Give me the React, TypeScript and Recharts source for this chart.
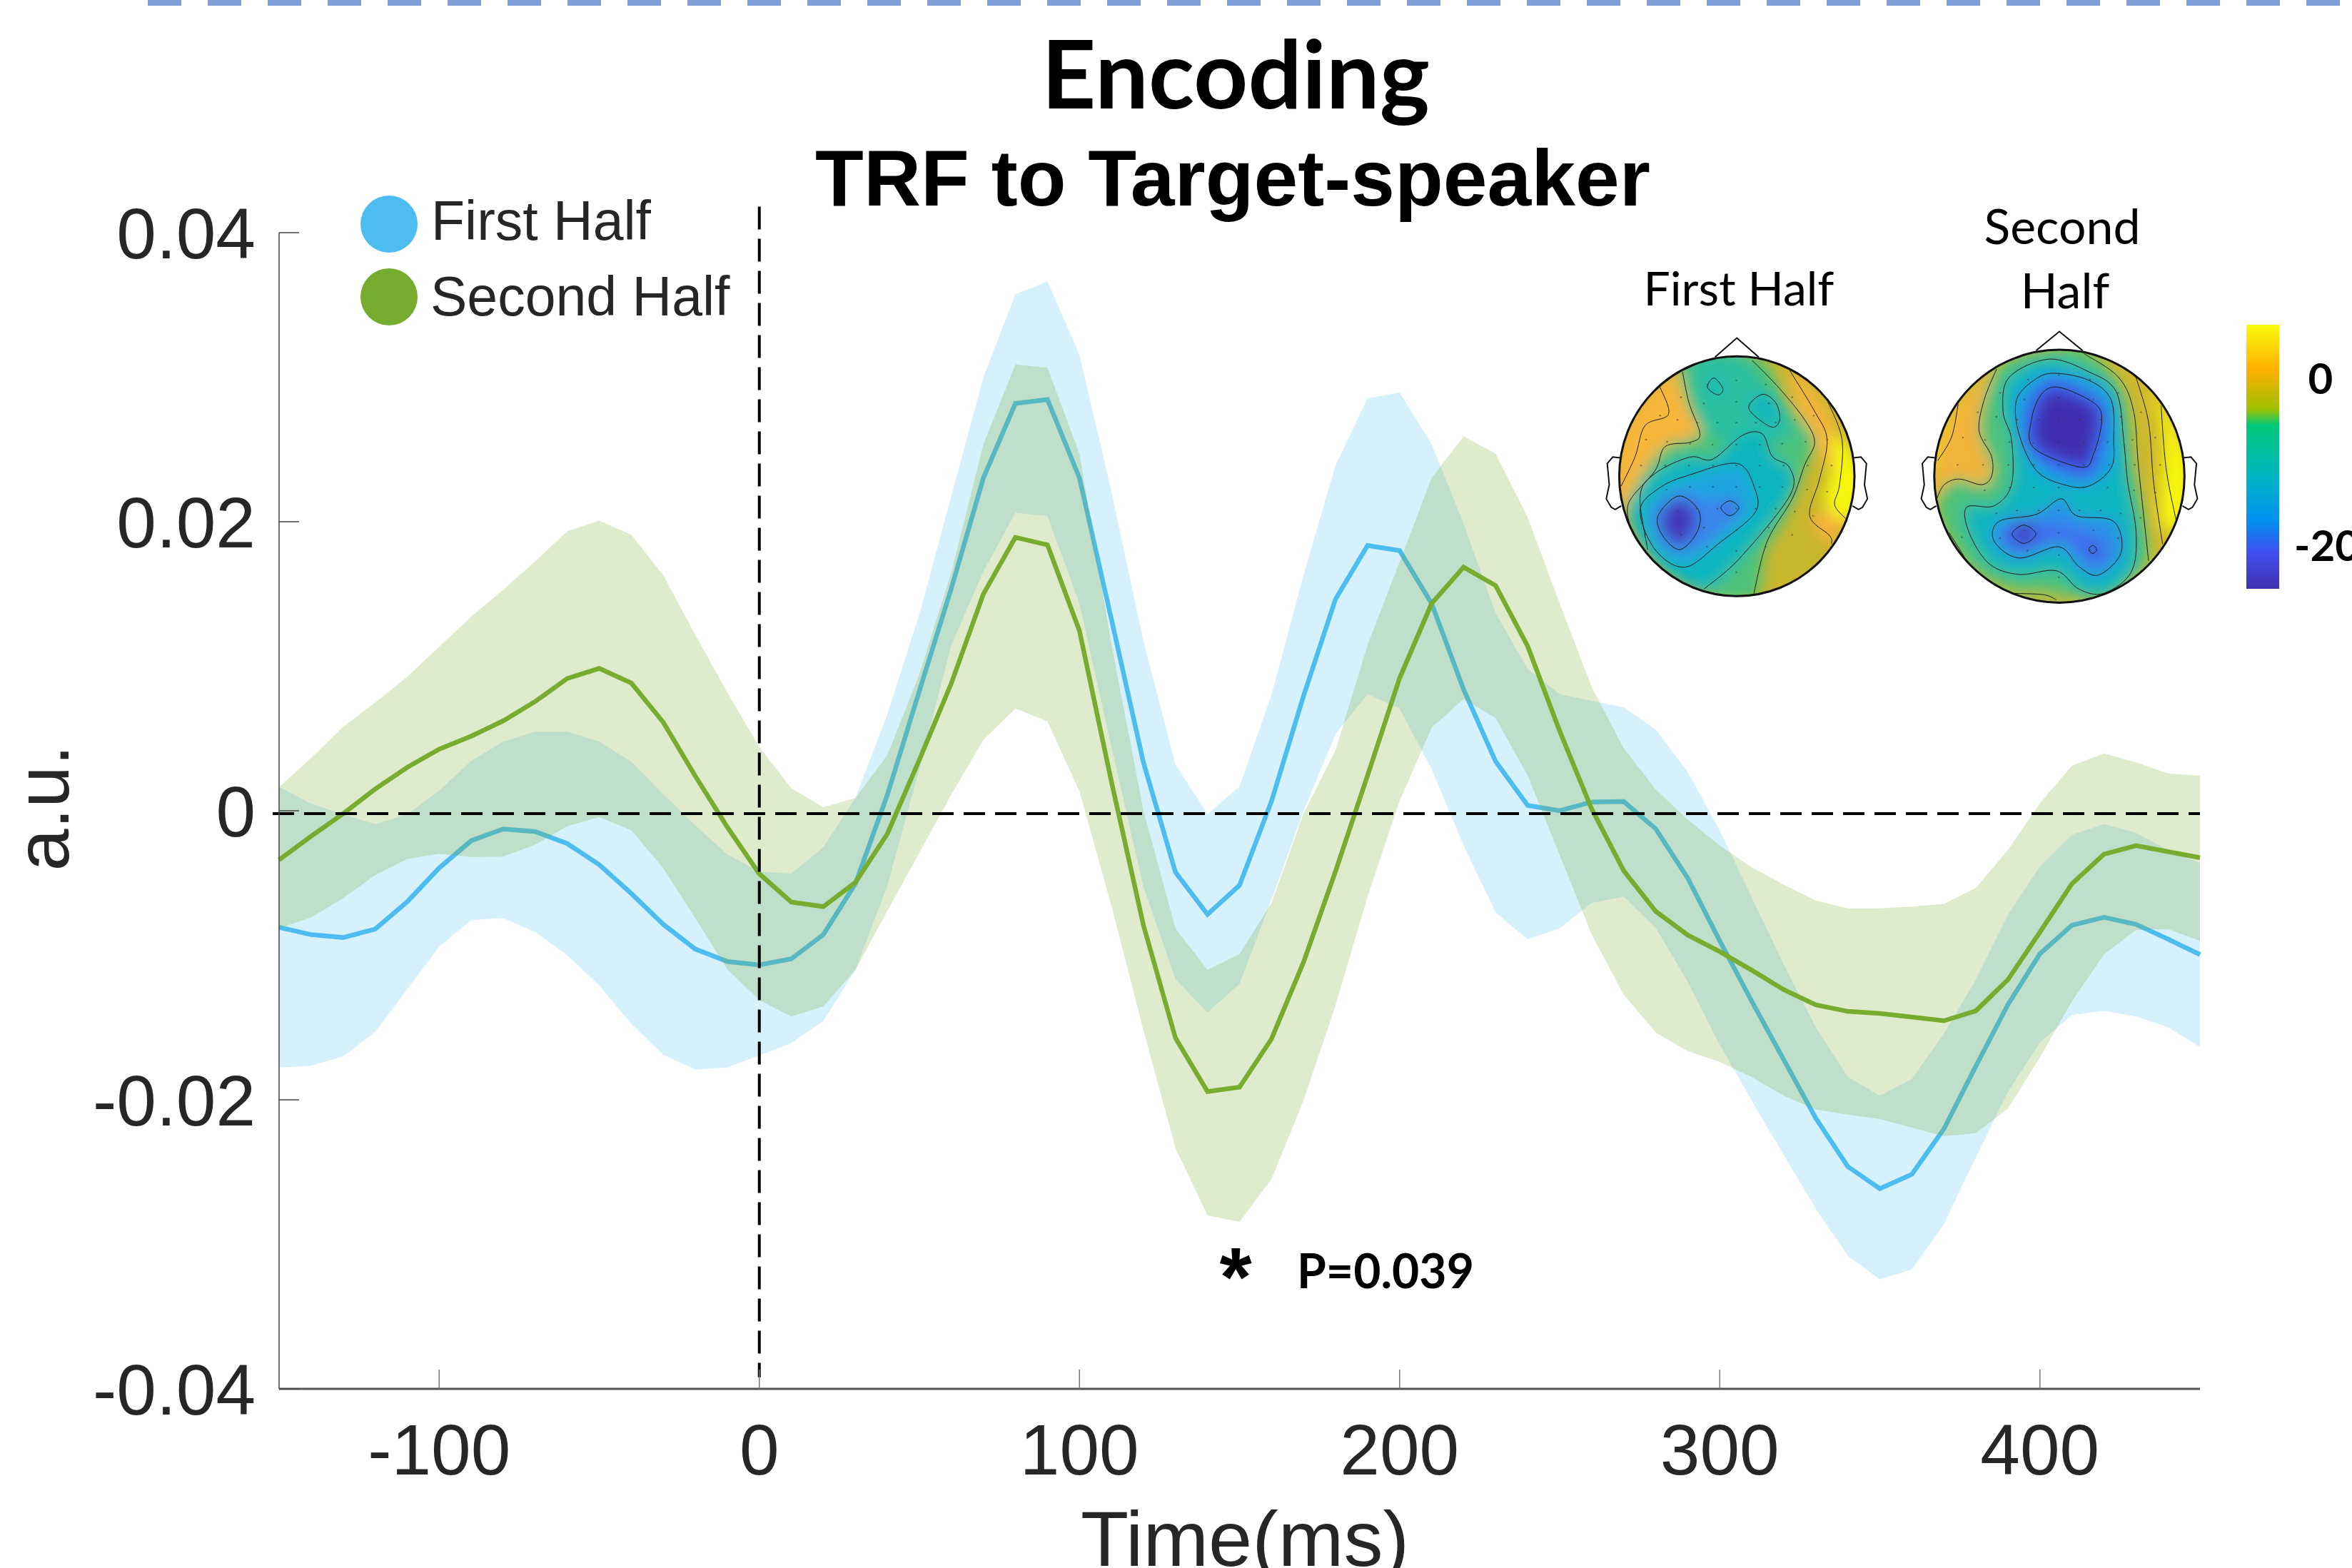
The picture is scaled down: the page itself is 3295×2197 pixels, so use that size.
import { Area, ComposedChart, Line, ReferenceLine, XAxis, YAxis } from 'recharts';

const times = [
  -150, -140, -130, -120, -110, -100, -90, -80, -70, -60, -50, -40, -30, -20, -10, 0, 10, 20, 30, 40, 50,
  60, 70, 80, 90, 100, 110, 120, 130, 140, 150, 160, 170, 180, 190, 200, 210, 220, 230, 240, 250,
  260, 270, 280, 290, 300, 310, 320, 330, 340, 350, 360, 370, 380, 390, 400, 410, 420, 430, 440, 450,
];

const firstMean = [
  -0.00806, -0.00857, -0.00877, -0.00819, -0.0063, -0.00396, -0.00207, -0.00126, -0.00144, -0.00227, -0.00373,
  -0.00572, -0.00786, -0.00957, -0.01043, -0.01066, -0.01025, -0.00857, -0.00505, 0.0011, 0.0083,
  0.0154, 0.02303, 0.02819, 0.02845, 0.02303, 0.01324, 0.00332, -0.00426, -0.00717, -0.00515,
  0.00067, 0.00795, 0.01465, 0.01836, 0.018, 0.01434, 0.00839, 0.00341, 0.00037, 0,
  0.00061, 0.00064, -0.00125, -0.00466, -0.009, -0.01319, -0.01723, -0.02127, -0.02462, -0.02615,
  -0.02516, -0.02202, -0.01767, -0.01342, -0.0099, -0.00792, -0.00738, -0.00786, -0.00888, -0.00995,
];
const firstUpper = [
  0.00164, 0.0005, -0.00025, -0.00093, -0.00025, 0.00139, 0.00345, 0.00479, 0.00547, 0.00547, 0.00479,
  0.0034, 0.00113, -0.00101, -0.00302, -0.00421, -0.00436, -0.00252, 0.00088, 0.00668, 0.0136,
  0.0218, 0.03, 0.03574, 0.03662, 0.03154, 0.02206, 0.0117, 0.00319, -0.00022, 0.00168,
  0.00803, 0.01632, 0.02391, 0.02854, 0.02894, 0.02537, 0.01985, 0.01368, 0.0098, 0.00808,
  0.0076, 0.00716, 0.00561, 0.00268, -0.00136, -0.006, -0.01064, -0.01498, -0.01842, -0.01971,
  -0.01857, -0.01543, -0.01169, -0.0072, -0.00385, -0.00167, -0.00092, -0.00152, -0.00272, -0.00362,
];
const firstLower = [
  -0.01776, -0.01764, -0.017, -0.0153, -0.01235, -0.0094, -0.00756, -0.00743, -0.00839, -0.01, -0.01209,
  -0.01474, -0.01688, -0.01791, -0.01776, -0.01693, -0.01607, -0.01454, -0.01101, -0.00517, 0.0029,
  0.0115, 0.01655, 0.02062, 0.0204, 0.01434, 0.00442, -0.00527, -0.01167, -0.01396, -0.01198,
  -0.00616, 0, 0.00531, 0.00808, 0.00707, 0.00288, -0.00241, -0.00704, -0.00889, -0.00814,
  -0.00638, -0.00594, -0.0081, -0.01184, -0.01618, -0.02007, -0.02381, -0.02755, -0.03079, -0.03243,
  -0.03174, -0.0286, -0.02396, -0.01947, -0.01603, -0.01414, -0.01384, -0.01423, -0.01498, -0.01633,
];

const secondMean = [
  -0.0034, -0.00176, -0.0002, 0.0015, 0.003, 0.00426, 0.00516, 0.00622, 0.00756, 0.00915, 0.00985,
  0.00884, 0.00612, 0.0024, -0.00113, -0.00436, -0.00632, -0.00663, -0.00496, -0.00159, 0.00353,
  0.00883, 0.015, 0.01892, 0.0184, 0.01245, 0.002, -0.00793, -0.01573, -0.01943, -0.01912,
  -0.01578, -0.01047, -0.00418, 0.00244, 0.00918, 0.01434, 0.01686, 0.01558, 0.01139, 0.00552,
  0.00013, -0.00415, -0.00696, -0.0086, -0.00975, -0.01103, -0.01238, -0.01343, -0.01388, -0.01403,
  -0.01427, -0.01453, -0.01384, -0.01169, -0.0084, -0.00505, -0.00301, -0.00241, -0.00283, -0.00325,
];
const secondUpper = [
  0.00164, 0.00365, 0.0058, 0.00748, 0.00927, 0.01134, 0.01343, 0.0153, 0.01726, 0.01935, 0.02008,
  0.0191, 0.0163, 0.01217, 0.00819, 0.00441, 0.00156, 0.00025, 0.00088, 0.00385, 0.00945,
  0.0165, 0.02537, 0.03088, 0.03066, 0.0247, 0.01148, 0, -0.00815, -0.01101, -0.00991,
  -0.00638, -0.0002, 0.0042, 0.01148, 0.01721, 0.02303, 0.0259, 0.0247, 0.0203, 0.01434,
  0.00857, 0.00432, 0.00148, -0.00062, -0.00241, -0.00391, -0.00511, -0.00621, -0.00675, -0.00675,
  -0.00663, -0.00645, -0.00534, -0.00271, 0.00052, 0.00312, 0.00396, 0.00336, 0.00258, 0.00243,
];
const secondLower = [
  -0.00814, -0.00738, -0.00605, -0.00446, -0.00333, -0.00297, -0.0032, -0.00317, -0.00234, -0.00108, -0.00043,
  -0.00134, -0.00398, -0.00743, -0.01096, -0.0131, -0.01424, -0.01353, -0.01101, -0.00693, -0.0029,
  0.00113, 0.00491, 0.00707, 0.00619, 0.00134, -0.00659, -0.0152, -0.02335, -0.028, -0.02844,
  -0.02547, -0.02005, -0.01344, -0.00594, 0.00068, 0.00575, 0.00773, 0.00641, 0.00244, -0.00307,
  -0.00855, -0.01274, -0.01534, -0.01663, -0.01738, -0.01843, -0.01972, -0.02067, -0.02103, -0.02133,
  -0.02192, -0.02252, -0.02231, -0.0206, -0.01708, -0.01319, -0.00995, -0.00825, -0.00819, -0.009,
];

const xTicks = [-100, 0, 100, 200, 300, 400];
const yTicks = [-0.04, -0.02, 0, 0.02, 0.04];

const chartData = times.map((t, i) => ({
  t,
  firstMean: firstMean[i],
  firstBand: [firstLower[i], firstUpper[i]],
  secondMean: secondMean[i],
  secondBand: [secondLower[i], secondUpper[i]],
}));

const BLUE = '#4dbdf0';
const GREEN = '#78ac2f';
const TEXT = '#262626';
const W = 3295;
const H = 2197;

type Pt = [number, number];

// closed or open smooth path through hand traced points
const smooth = (pts: Pt[], closed = true) => {
  const n = pts.length;
  const at = (i: number) => (closed ? pts[(i + n) % n] : pts[Math.max(0, Math.min(n - 1, i))]);
  let d = `M${pts[0][0]},${pts[0][1]}`;
  const last = closed ? n : n - 1;
  for (let i = 0; i < last; i++) {
    const [p0, p1, p2, p3] = [at(i - 1), at(i), at(i + 1), at(i + 2)];
    d += `C${p1[0] + (p2[0] - p0[0]) / 6},${p1[1] + (p2[1] - p0[1]) / 6} ${p2[0] - (p3[0] - p1[0]) / 6},${p2[1] - (p3[1] - p1[1]) / 6} ${p2[0]},${p2[1]}`;
  }
  return closed ? d + 'Z' : d;
};

const electrodes: Pt[] = [
  [333, 690], [275, 705], [392, 705], [222, 750], [268, 772], [333, 766], [398, 772], [445, 750], [180, 815], [215, 830],
  [255, 840], [295, 840], [333, 840], [372, 840], [412, 840], [450, 830], [488, 815], [152, 900], [194, 908], [240, 915],
  [285, 918], [333, 918], [380, 918], [425, 915], [472, 908], [515, 900], [142, 992], [190, 992], [238, 992], [286, 992],
  [333, 992], [380, 992], [428, 992], [476, 992], [524, 992], [193, 1077], [240, 1068], [286, 1068], [333, 1068], [380, 1068],
  [425, 1068], [475, 1077], [515, 1085], [215, 1155], [254, 1145], [295, 1145], [333, 1145], [372, 1145], [412, 1145], [450, 1155],
  [487, 1170], [150, 1235], [222, 1238], [268, 1212], [333, 1220], [398, 1212], [445, 1238], [274, 1280], [333, 1295], [392, 1280], [333, 1370],
];

type Layer = { fill: string; pts: Pt[] };
type Head = { id: string; cx: number; cy: number; rx: number; ry: number; base: string; layers: Layer[]; contours: { pts: Pt[]; closed: boolean }[] };

const firstHead: Head = {
  id: 'h1', cx: 334, cy: 1030, rx: 236, ry: 425, base: '#c8b62e',
  layers: [
    { fill: '#f8b63a', pts: [[180, 700], [250, 640], [260, 880], [190, 930], [120, 1150], [90, 1050], [110, 850]] },
    { fill: '#f5b53a', pts: [[440, 650], [500, 760], [540, 900], [520, 1000], [490, 900], [460, 800]] },
    { fill: '#f7b23a', pts: [[485, 1170], [550, 1170], [520, 1270], [490, 1210]] },
    { fill: '#f8f510', pts: [[530, 880], [585, 1000], [585, 1100], [560, 1190], [510, 1130], [525, 1000]] },
    { fill: '#4cc27a', pts: [[225, 600], [370, 600], [440, 780], [490, 900], [470, 1000], [430, 1180], [390, 1300], [370, 1460], [270, 1450], [160, 1320], [115, 1180], [120, 1100], [185, 930], [260, 880], [235, 780]] },
    { fill: '#2cc0a0', pts: [[250, 620], [340, 610], [420, 780], [445, 880], [390, 920], [300, 900], [260, 820]] },
    { fill: '#0fb6c0', pts: [[240, 962], [285, 970], [345, 885], [385, 880], [405, 960], [440, 1000], [445, 1080], [380, 1240], [330, 1340], [270, 1430], [190, 1370], [130, 1230], [125, 1130], [170, 1020]] },
    { fill: '#14b8bc', pts: [[275, 690], [300, 690], [305, 735], [285, 740]] },
    { fill: '#0fb6c0', pts: [[360, 760], [405, 745], [420, 830], [400, 850], [365, 800]] },
    { fill: '#1fa4e0', pts: [[240, 1040], [335, 1000], [360, 1075], [360, 1160], [300, 1250], [230, 1335], [180, 1280], [155, 1150], [190, 1080]] },
    { fill: '#3a86ee', pts: [[215, 1090], [270, 1110], [335, 1120], [325, 1180], [265, 1280], [190, 1285], [165, 1170]] },
    { fill: '#4338b8', pts: [[217, 1115], [250, 1155], [248, 1215], [220, 1275], [192, 1235], [184, 1170]] },
    { fill: '#4a4cd8', pts: [[320, 1120], [334, 1142], [320, 1165], [306, 1142]] },
  ],
  contours: [
    { closed: false, pts: [[180, 715], [197, 810], [150, 850], [130, 960], [102, 1065]] },
    { closed: false, pts: [[225, 660], [238, 770], [260, 880], [240, 910], [190, 925], [170, 1010], [118, 1120], [118, 1200]] },
    { closed: false, pts: [[365, 620], [420, 720], [470, 830], [490, 910], [470, 990], [445, 1110], [395, 1260], [368, 1445]] },
    { closed: false, pts: [[440, 655], [490, 800], [515, 900], [500, 1040], [480, 1170], [520, 1240], [524, 1270]] },
    { closed: false, pts: [[515, 760], [545, 900], [540, 1060], [530, 1130], [552, 1180]] },
    { closed: false, pts: [[268, 1430], [340, 1320], [440, 1100], [440, 1000], [405, 960], [385, 880], [345, 885], [285, 970], [240, 962], [170, 1020], [140, 1100], [155, 1290]] },
    { closed: true, pts: [[240, 1025], [335, 985], [370, 1075], [370, 1160], [300, 1265], [230, 1352], [170, 1290], [140, 1150], [180, 1070]] },
    { closed: true, pts: [[217, 1100], [257, 1150], [255, 1225], [220, 1290], [185, 1240], [176, 1170]] },
    { closed: true, pts: [[320, 1117], [338, 1142], [320, 1170], [302, 1142]] },
    { closed: true, pts: [[288, 682], [306, 720], [296, 742], [275, 715]] },
    { closed: true, pts: [[385, 740], [412, 770], [420, 830], [402, 855], [358, 790]] },
  ],
};

const secondHead: Head = {
  id: 'h2', cx: 981, cy: 1030, rx: 251, ry: 448, base: '#d0b92e',
  layers: [
    { fill: '#f8f510', pts: [[1170, 720], [1245, 1000], [1225, 1200], [1185, 1190], [1190, 900]] },
    { fill: '#f7d520', pts: [[780, 760], [720, 970], [760, 1000], [795, 820]] },
    { fill: '#f3b43a', pts: [[780, 780], [850, 660], [830, 850], [845, 1000], [830, 1060], [770, 1040], [735, 1090], [735, 970]] },
    { fill: '#4cc27a', pts: [[860, 640], [970, 580], [1040, 590], [1110, 740], [1130, 1000], [1160, 1300], [1110, 1420], [1060, 1470], [950, 1440], [880, 1430], [800, 1350], [745, 1200], [740, 1110], [770, 1040], [830, 1060], [845, 1000], [820, 850]] },
    { fill: '#a8b83a', pts: [[890, 1450], [970, 1465], [1000, 1490], [900, 1490]] },
    { fill: '#0fb6c0', pts: [[960, 615], [1040, 660], [1095, 730], [1110, 900], [1118, 1050], [1135, 1230], [1125, 1370], [1070, 1445], [1020, 1430], [975, 1365], [900, 1378], [840, 1340], [800, 1230], [795, 1140], [850, 1135], [885, 1060], [885, 900], [868, 800], [880, 680]] },
    { fill: '#1f98e8', pts: [[970, 665], [1040, 690], [1085, 760], [1090, 900], [1085, 1000], [1040, 1065], [990, 1060], [935, 1010], [900, 880], [895, 760], [930, 690]] },
    { fill: '#2a90ea', pts: [[985, 1110], [1015, 1170], [1090, 1190], [1105, 1300], [1060, 1380], [1020, 1350], [980, 1280], [900, 1320], [850, 1260], [860, 1190], [935, 1165]] },
    { fill: '#3e58ee', pts: [[975, 690], [1060, 760], [1075, 830], [1060, 960], [1030, 1030], [925, 950], [912, 830], [935, 730]] },
    { fill: '#3f70ef', pts: [[890, 1190], [970, 1200], [1050, 1240], [1080, 1300], [1050, 1350], [990, 1260], [900, 1300], [865, 1250]] },
    { fill: '#412fae', pts: [[980, 735], [1045, 780], [1058, 830], [1042, 950], [1022, 985], [940, 925], [935, 830], [950, 750]] },
    { fill: '#4338b8', pts: [[910, 1203], [934, 1235], [910, 1268], [886, 1235]] },
    { fill: '#4338b8', pts: [[1048, 1275], [1056, 1290], [1048, 1304], [1040, 1290]] },
  ],
  contours: [
    { closed: false, pts: [[778, 775], [765, 890], [737, 975]] },
    { closed: false, pts: [[855, 650], [830, 760], [820, 870], [845, 960], [845, 1030], [825, 1060], [780, 1040], [750, 1060], [735, 1110]] },
    { closed: true, pts: [[960, 615], [1040, 660], [1095, 730], [1110, 900], [1118, 1050], [1135, 1230], [1125, 1370], [1070, 1445], [1020, 1430], [975, 1365], [900, 1378], [840, 1340], [800, 1230], [795, 1140], [850, 1135], [885, 1060], [885, 900], [868, 800], [880, 680]] },
    { closed: true, pts: [[970, 665], [1040, 690], [1085, 760], [1090, 900], [1085, 1000], [1040, 1065], [990, 1060], [935, 1010], [900, 880], [895, 760], [930, 690]] },
    { closed: true, pts: [[985, 1110], [1015, 1170], [1090, 1190], [1105, 1300], [1060, 1380], [1020, 1350], [980, 1280], [900, 1320], [850, 1260], [860, 1190], [935, 1165]] },
    { closed: true, pts: [[980, 715], [1050, 770], [1066, 830], [1050, 950], [1025, 998], [930, 930], [925, 830], [945, 740]] },
    { closed: true, pts: [[910, 1203], [934, 1235], [910, 1268], [886, 1235]] },
    { closed: true, pts: [[1048, 1275], [1056, 1290], [1048, 1304], [1040, 1290]] },
    { closed: false, pts: [[1030, 595], [1100, 680], [1130, 800], [1140, 1000], [1160, 1330]] },
    { closed: false, pts: [[1135, 680], [1160, 840], [1170, 1050], [1188, 1270]] },
    { closed: false, pts: [[1185, 780], [1195, 1000], [1215, 1185]] },
    { closed: false, pts: [[890, 1445], [950, 1450], [975, 1468]] },
    { closed: false, pts: [[760, 1230], [790, 1315]] },
  ],
};

const TopoHead = ({ head }: { head: Head }) => {
  const { id, cx, cy, rx, ry } = head;
  const sx = rx / 236;
  const sy = ry / 425;
  return (
    <g>
      <clipPath id={id}>
        <ellipse cx={cx} cy={cy} rx={rx} ry={ry} />
      </clipPath>
      <g clipPath={`url(#${id})`}>
        <rect x={cx - rx} y={cy - ry} width={rx * 2} height={ry * 2} fill={head.base} />
        <g filter="url(#topoBlur)">
          {head.layers.map((l, i) => <path key={i} d={smooth(l.pts)} fill={l.fill} />)}
        </g>
        {head.contours.map((c, i) => (
          <path key={i} d={smooth(c.pts, c.closed)} fill="none" stroke="#1c1c1c" strokeWidth={1} vectorEffect="non-scaling-stroke" />
        ))}
        {electrodes.map(([x, y], i) => (
          <ellipse key={i} cx={cx + (x - 334) * sx} cy={cy + (y - 1030) * sy} rx={2} ry={3} fill="#333" opacity={0.5} />
        ))}
      </g>
      <ellipse cx={cx} cy={cy} rx={rx} ry={ry} fill="none" stroke="#111" strokeWidth={3} vectorEffect="non-scaling-stroke" />
      <path d={`M${cx - 44 * sx},${cy - ry + 3} L${cx},${cy - ry - 65} L${cx + 44 * sx},${cy - ry + 3}`} fill="none" stroke="#111" strokeWidth={2} vectorEffect="non-scaling-stroke" />
      <path d={`M${cx - rx + 2},${cy - 65} L${cx - rx - 13},${cy - 68} L${cx - rx - 24},${cy - 45} L${cx - rx - 20},${cy + 30} L${cx - rx - 26},${cy + 80} L${cx - rx - 16},${cy + 110} L${cx - rx - 8},${cy + 118} L${cx - rx + 4},${cy + 105}`} fill="none" stroke="#111" strokeWidth={2} vectorEffect="non-scaling-stroke" />
      <path d={`M${cx + rx - 2},${cy - 65} L${cx + rx + 13},${cy - 68} L${cx + rx + 24},${cy - 45} L${cx + rx + 20},${cy + 30} L${cx + rx + 26},${cy + 80} L${cx + rx + 16},${cy + 110} L${cx + rx + 8},${cy + 118} L${cx + rx - 4},${cy + 105}`} fill="none" stroke="#111" strokeWidth={2} vectorEffect="non-scaling-stroke" />
    </g>
  );
};

const Overlay = () => (
  <svg width={W} height={H} style={{ position: 'absolute', left: 0, top: 0, pointerEvents: 'none' }}>
    <defs>
      <filter id="topoBlur" x="-20%" y="-20%" width="140%" height="140%">
        <feGaussianBlur stdDeviation="14 26" />
      </filter>
      <linearGradient id="cbar" x1="0" y1="0" x2="0" y2="1">
        <stop offset="0" stopColor="#f9fb0e" />
        <stop offset="0.17" stopColor="#ffb000" />
        <stop offset="0.32" stopColor="#9ec000" />
        <stop offset="0.38" stopColor="#00c878" />
        <stop offset="0.58" stopColor="#00b4c4" />
        <stop offset="0.74" stopColor="#0090f0" />
        <stop offset="0.86" stopColor="#4050f0" />
        <stop offset="1" stopColor="#4030b0" />
      </linearGradient>
    </defs>

    <line x1={207} y1={0} x2={W} y2={0} stroke="#7f9fd9" strokeWidth={16} strokeDasharray="47 37" />

    <text x={1731} y={152} textAnchor="middle" fontFamily="Lato" fontWeight={700} fontSize={133} fill="#000">Encoding</text>
    <text x={1727} y={288} textAnchor="middle" fontFamily="Liberation Sans" fontWeight={700} fontSize={111} fill="#000">TRF to Target-speaker</text>

    <circle cx={545} cy={314} r={40} fill={BLUE} />
    <circle cx={545} cy={416} r={40} fill={GREEN} />
    <text x={604} y={336} fontFamily="Liberation Sans" fontSize={77} fill={TEXT}>First Half</text>
    <text x={603} y={442} fontFamily="Liberation Sans" fontSize={77} fill={TEXT}>Second Half</text>

    <text transform="translate(96,1132) rotate(-90)" textAnchor="middle" fontFamily="Liberation Sans" fontSize={106} fill={TEXT}>a.u.</text>
    <text x={1744} y={2194} textAnchor="middle" fontFamily="Liberation Sans" fontSize={110} fill={TEXT}>Time(ms)</text>

    <text x={1731} y={1830} textAnchor="middle" fontFamily="Liberation Sans" fontWeight={700} fontSize={116} fill="#000">*</text>
    <text x={1817} y={1805} fontFamily="Lato" fontWeight={700} fontSize={66} fill="#000">P=0.039</text>

    <text x={2436} y={428} textAnchor="middle" fontFamily="Lato" fontSize={66} fill="#000">First Half</text>
    <text x={2889} y={342} textAnchor="middle" fontFamily="Lato" fontSize={68} fill="#000">Second</text>
    <text x={2893} y={432} textAnchor="middle" fontFamily="Lato" fontSize={68} fill="#000">Half</text>

    <g transform="translate(2200,260) scale(0.6983,0.3954)">
      <TopoHead head={firstHead} />
      <TopoHead head={secondHead} />
    </g>

    <rect x={3147} y={455} width={46} height={370} fill="url(#cbar)" />
    <text x={3251} y={552} textAnchor="middle" fontFamily="Lato" fontWeight={700} fontSize={60} fill="#000">0</text>
    <text x={3214} y={786} fontFamily="Lato" fontWeight={700} fontSize={60} fill="#000">-20</text>
  </svg>
);

export default function App() {
  return (
    <div style={{ position: 'absolute', left: 0, top: 0, width: W, height: H, overflow: 'hidden', background: '#fff' }}>
      <ComposedChart
        width={W}
        height={H}
        data={chartData}
        margin={{ top: 326, right: 213, bottom: 0, left: 0 }}
      >
        <XAxis
          dataKey="t"
          type="number"
          domain={[-150, 450]}
          ticks={xTicks}
          height={251}
          tickSize={-27}
          tickMargin={76}
          axisLine={{ stroke: '#555', strokeWidth: 3 }}
          tickLine={{ stroke: '#777', strokeWidth: 1.5 }}
          tick={{ fontFamily: 'Liberation Sans', fontSize: 100, fill: TEXT }}
          interval={0}
        />
        <YAxis
          type="number"
          domain={[-0.04, 0.04]}
          ticks={yTicks}
          width={391}
          tickSize={-28}
          tickMargin={61}
          axisLine={{ stroke: '#444', strokeWidth: 1.5 }}
          tickLine={{ stroke: '#444', strokeWidth: 1.5 }}
          tick={{ fontFamily: 'Liberation Sans', fontSize: 100, fill: TEXT }}
          tickFormatter={(v: number) => String(v)}
          interval={0}
        />
        <Area dataKey="firstBand" type="linear" stroke="none" fill={BLUE} fillOpacity={0.23} isAnimationActive={false} zIndex={100} />
        <Line dataKey="firstMean" type="linear" stroke={BLUE} strokeWidth={6.5} dot={false} isAnimationActive={false} zIndex={101} />
        <Area dataKey="secondBand" type="linear" stroke="none" fill={GREEN} fillOpacity={0.24} isAnimationActive={false} zIndex={102} />
        <Line dataKey="secondMean" type="linear" stroke={GREEN} strokeWidth={6.5} dot={false} isAnimationActive={false} zIndex={103} />
        <ReferenceLine
          segment={[{ x: -152, y: -0.0002 }, { x: 450, y: -0.0002 }]}
          ifOverflow="visible"
          stroke="#000"
          strokeWidth={4}
          strokeDasharray="30 14"
          zIndex={110}
        />
        <ReferenceLine
          segment={[{ x: 0, y: 0.0418 }, { x: 0, y: -0.0392 }]}
          ifOverflow="visible"
          stroke="#000"
          strokeWidth={4}
          strokeDasharray="32 13"
          zIndex={110}
        />
      </ComposedChart>
      <Overlay />
    </div>
  );
}
